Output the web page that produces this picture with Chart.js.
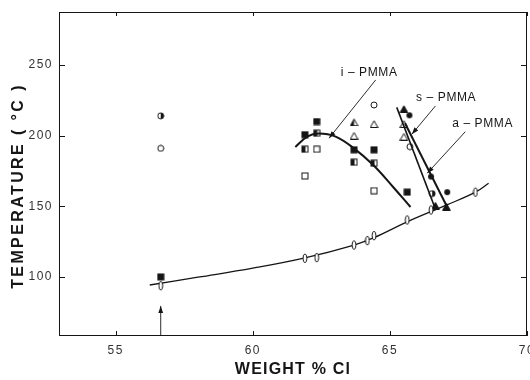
<!DOCTYPE html>
<html><head><meta charset="utf-8">
<script src="https://cdn.jsdelivr.net/npm/chart.js@4/dist/chart.umd.min.js"></script>
<style>html,body{margin:0;padding:0;background:#fff}</style>
</head><body>
<canvas id="c" width="530" height="380"></canvas>
<script>
// ---- data (weight % Cl, temperature °C) ----
const xTicks = [55, 60, 65, 70];
const yTicks = [100, 150, 200, 250];
const filledSquare   = [[56.64,100],[61.9,200.7],[62.33,210],[63.69,190],[64.42,190],[65.63,160]];
const halfSquare     = [[62.33,201.7],[61.9,190.4],[63.69,181.2],[64.42,180.5]];
const openSquare     = [[62.33,190.4],[61.9,171.5],[64.42,161]];
const openCircle     = [[56.64,191],[64.42,221.7],[65.73,192.2]];
const halfCircle     = [[56.64,214],[66.54,159]];
const filledCircle   = [[65.71,214.4],[66.5,171],[67.09,160]];
const openTriangle   = [[63.69,200],[64.42,208.3],[65.51,208.3],[65.51,199.3]];
const halfTriangle   = [[63.69,209.5]];
const filledTriangle = [[65.51,218.9],[66.66,150.5],[67.06,149.8]];
const openEllipse    = [[56.64,93.8],[61.9,113.2],[62.33,113.7],[63.69,122.6],[64.18,125.7],[64.42,129.2],[65.63,140.3],[66.5,147.4],[68.12,160]];
// curves
const lowerCurve = [[56.24,94.3],[58,99.8],[60,106.2],[61.9,113.5],[63.69,122.6],[64.42,127.8],[65.63,139],[67.08,151],[68.12,160],[68.6,166.3]];
const iPMMACurve = [[61.55,192],[62.0,199.5],[62.4,201.5],[63.0,199.5],[63.69,191],[64.4,179],[65.1,164],[65.75,149.5]];
const sPMMALine  = [[65.25,220],[66.62,150]];
const aPMMALine  = [[65.55,208.8],[67.08,149.8]];
// annotations
const labels = [
  {text:'i – PMMA', x:64.24, y:244.4},
  {text:'s – PMMA', x:67.05, y:226.9},
  {text:'a – PMMA', x:68.38, y:208.8}
];
const arrows = [
  {from:[64.48,239.4], to:[62.78,198.2]},
  {from:[66.66,221.0], to:[65.80,201.0]},
  {from:[67.75,202.8], to:[66.36,173.4]},
  {from:[56.64,58.2],  to:[56.64,79.5]}
];

const INK = '#151515';
function mk(w,h,draw){const c=document.createElement('canvas');c.width=w;c.height=h;const g=c.getContext('2d');g.lineWidth=1;g.strokeStyle=INK;g.fillStyle=INK;draw(g,w,h);return c;}
function tri(g){g.beginPath();g.moveTo(4.5,0.8);g.lineTo(8.3,7.5);g.lineTo(0.7,7.5);g.closePath();}
function circ(g){g.beginPath();g.arc(4,4,3,0,Math.PI*2);}
const M = {
  filledSquare: mk(8,8,g=>{g.fillRect(0.5,0.5,7,7);}),
  openSquare:   mk(8,8,g=>{g.strokeRect(1,1,6,6);}),
  halfSquare:   mk(8,8,g=>{g.strokeRect(1,1,6,6);g.fillRect(1,1,3.5,6);}),
  openCircle:   mk(8,8,g=>{circ(g);g.stroke();}),
  filledCircle: mk(8,8,g=>{circ(g);g.fill();}),
  halfCircle:   mk(8,8,g=>{circ(g);g.stroke();g.save();g.beginPath();g.rect(4,0,4,8);g.clip();circ(g);g.fill();g.restore();}),
  openTriangle: mk(9,8,g=>{tri(g);g.stroke();}),
  filledTriangle: mk(9,8,g=>{tri(g);g.fill();g.stroke();}),
  halfTriangle: mk(9,8,g=>{tri(g);g.stroke();g.save();g.beginPath();g.rect(0,0,4.5,8);g.clip();tri(g);g.fill();g.restore();}),
  openEllipse:  mk(6,11,g=>{g.beginPath();g.ellipse(3,5.5,1.9,4.3,0,0,Math.PI*2);g.fillStyle='#fff';g.fill();g.stroke();})
};
const pts = a => a.map(p=>({x:p[0],y:p[1]}));
function markerSet(name, data){return {type:'scatter',label:name,data:pts(data),pointStyle:M[name],pointRadius:4,showLine:false,order:1};}
function lineSet(name, data, w, tension){return {type:'line',label:name,data:pts(data),borderColor:INK,borderWidth:w,pointRadius:0,tension:tension,fill:false,order:2};}

const decor = {
  id:'decor',
  beforeDraw(chart){ chart.ctx.letterSpacing='1.5px'; },
  afterDatasetsDraw(chart){
    const {ctx, chartArea:a, scales:{x,y}} = chart;
    ctx.save();
    ctx.letterSpacing='0px';
    ctx.strokeStyle=INK; ctx.fillStyle=INK; ctx.lineWidth=1;
    const L=(x1,y1,x2,y2)=>{ctx.beginPath();ctx.moveTo(x1,y1);ctx.lineTo(x2,y2);ctx.stroke();};
    // frame
    ctx.strokeRect(a.left+0.5,a.top+0.5,a.right-a.left-1,a.bottom-a.top-1);
    // inward ticks
    xTicks.forEach(v=>{const p=Math.round(x.getPixelForValue(v))+0.5; L(p,a.bottom,p,a.bottom-5); L(p,a.top,p,a.top+4);});
    yTicks.forEach(v=>{const p=Math.round(y.getPixelForValue(v))+0.5; L(a.left,p,a.left+6,p); L(a.right,p,a.right-6,p);});
    // arrows
    ctx.lineWidth=0.9;
    arrows.forEach(ar=>{
      const x1=x.getPixelForValue(ar.from[0]), y1=y.getPixelForValue(ar.from[1]);
      const x2=x.getPixelForValue(ar.to[0]),   y2=y.getPixelForValue(ar.to[1]);
      L(x1,y1,x2,y2);
      const ang=Math.atan2(y2-y1,x2-x1), hl=7, hw=2.4;
      ctx.beginPath();
      ctx.moveTo(x2,y2);
      ctx.lineTo(x2-hl*Math.cos(ang)+hw*Math.sin(ang), y2-hl*Math.sin(ang)-hw*Math.cos(ang));
      ctx.lineTo(x2-hl*Math.cos(ang)-hw*Math.sin(ang), y2-hl*Math.sin(ang)+hw*Math.cos(ang));
      ctx.closePath(); ctx.fill();
    });
    // annotation labels
    ctx.font='12px "Liberation Sans", Arial, sans-serif';
    ctx.letterSpacing='0.6px';
    ctx.textAlign='center'; ctx.textBaseline='middle';
    labels.forEach(l=>ctx.fillText(l.text, x.getPixelForValue(l.x), y.getPixelForValue(l.y)));
    // axis titles
    ctx.font='bold 16px "Liberation Sans", Arial, sans-serif';
    ctx.letterSpacing='1.2px';
    ctx.fillText('WEIGHT % Cl', (a.left+a.right)/2, 370);
    ctx.save();
    ctx.translate(19, 186); ctx.rotate(-Math.PI/2);
    ctx.letterSpacing='2.4px';
    ctx.fillText('TEMPERATURE ( °C )', 0, 0);
    ctx.restore();
    ctx.restore();
  }
};

new Chart(document.getElementById('c'), {
  data:{datasets:[
    markerSet('openEllipse', openEllipse),
    markerSet('filledSquare', filledSquare),
    markerSet('halfSquare', halfSquare),
    markerSet('openSquare', openSquare),
    markerSet('openCircle', openCircle),
    markerSet('halfCircle', halfCircle),
    markerSet('filledCircle', filledCircle),
    markerSet('openTriangle', openTriangle),
    markerSet('halfTriangle', halfTriangle),
    markerSet('filledTriangle', filledTriangle),
    lineSet('lower', lowerCurve, 1.3, 0.4),
    lineSet('i-PMMA', iPMMACurve, 2, 0.4),
    lineSet('s-PMMA', sPMMALine, 1.6, 0),
    lineSet('a-PMMA', aPMMALine, 2, 0)
  ]},
  options:{
    responsive:false, animation:false, devicePixelRatio:1,
    layout:{autoPadding:false, padding:{top:12,right:3,left:0,bottom:0}},
    plugins:{legend:{display:false},tooltip:{enabled:false}},
    scales:{
      x:{type:'linear',min:52.93,max:70,
         afterBuildTicks:s=>{s.ticks=xTicks.map(v=>({value:v}));},
         afterFit:s=>{s.height=44;s.paddingLeft=0;s.paddingRight=0;},
         grid:{display:false,drawTicks:false}, border:{display:false},
         ticks:{padding:7,color:'#333',maxRotation:0,font:{family:'"Liberation Sans", Arial, sans-serif',size:12},callback:v=>String(v)}},
      y:{type:'linear',min:58.2,max:287.5,
         afterBuildTicks:s=>{s.ticks=yTicks.map(v=>({value:v}));},
         afterFit:s=>{s.width=59;s.paddingTop=0;s.paddingBottom=0;},
         grid:{display:false,drawTicks:false}, border:{display:false},
         ticks:{padding:6,color:'#333',font:{family:'"Liberation Sans", Arial, sans-serif',size:12},callback:v=>String(v)}}
    }
  },
  plugins:[decor]
});
</script>
</body></html>
